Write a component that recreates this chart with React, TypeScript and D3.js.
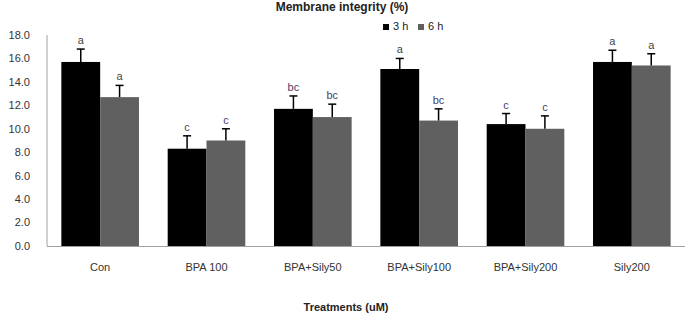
import { useEffect, useRef } from "react";
import * as d3 from "d3";

const treatments = ["Con", "BPA 100", "BPA+Sily50", "BPA+Sily100", "BPA+Sily200", "Sily200"];
const seriesNames = ["3 h", "6 h"];
const mean3h = [15.7, 8.3, 11.7, 15.1, 10.4, 15.7];
const mean6h = [12.7, 9.0, 11.0, 10.7, 10.0, 15.4];
const err3h = [1.1, 1.1, 1.1, 0.9, 0.9, 1.0];
const err6h = [1.0, 1.0, 1.1, 1.0, 1.1, 1.0];
const letters3h = ["a", "c", "bc", "a", "c", "a"];
const letters6h = ["a", "c", "bc", "bc", "c", "a"];
const yTicks = [0, 2, 4, 6, 8, 10, 12, 14, 16, 18];

const colors = ["#000000", "#606060"];
const W = 685;
const H = 318;

export default function App() {
  const ref = useRef<SVGSVGElement>(null);

  useEffect(() => {
    const svg = d3.select(ref.current);
    svg.selectAll("*").remove();

    const margin = { top: 35, right: 0, bottom: 72, left: 47 };
    const font = "'Liberation Sans', Arial, sans-serif";

    const x = d3
      .scaleBand()
      .domain(treatments)
      .range([margin.left, W - margin.right])
      .paddingInner(0.27)
      .paddingOuter(0.135);
    const x1 = d3.scaleBand().domain(seriesNames).range([0, x.bandwidth()]);
    const y = d3.scaleLinear().domain([0, 18]).range([H - margin.bottom, margin.top]);

    svg
      .append("text")
      .attr("x", 342)
      .attr("y", 11)
      .attr("text-anchor", "middle")
      .attr("font-family", font)
      .attr("font-weight", "bold")
      .attr("font-size", 12)
      .attr("fill", "#222")
      .text("Membrane integrity (%)");

    // y tick labels
    svg
      .append("g")
      .selectAll("text")
      .data(yTicks)
      .join("text")
      .attr("x", 30)
      .attr("y", (d) => y(d))
      .attr("dy", "0.35em")
      .attr("text-anchor", "end")
      .attr("font-family", font)
      .attr("font-size", 11)
      .attr("fill", "#333")
      .text((d) => d.toFixed(1));

    // axes lines
    svg
      .append("line")
      .attr("x1", margin.left)
      .attr("x2", margin.left)
      .attr("y1", y(18))
      .attr("y2", y(0))
      .attr("stroke", "#a0a0a0");
    svg
      .append("line")
      .attr("x1", margin.left)
      .attr("x2", W)
      .attr("y1", y(0) + 0.5)
      .attr("y2", y(0) + 0.5)
      .attr("stroke", "#a0a0a0");

    const series = [
      { name: "3 h", mean: mean3h, err: err3h, letters: letters3h },
      { name: "6 h", mean: mean6h, err: err6h, letters: letters6h },
    ];

    series.forEach((s, si) => {
      const g = svg.append("g");
      const cx = (i: number) => x(treatments[i])! + x1(s.name)! + x1.bandwidth() / 2;

      g.selectAll("rect")
        .data(s.mean)
        .join("rect")
        .attr("x", (_, i) => x(treatments[i])! + x1(s.name)!)
        .attr("y", (d) => y(d))
        .attr("width", x1.bandwidth())
        .attr("height", (d) => y(0) - y(d))
        .attr("fill", colors[si]);

      // upper error whiskers
      g.selectAll("line.whisker")
        .data(s.mean)
        .join("line")
        .attr("class", "whisker")
        .attr("x1", (_, i) => cx(i))
        .attr("x2", (_, i) => cx(i))
        .attr("y1", (d) => y(d))
        .attr("y2", (d, i) => y(d + s.err[i]))
        .attr("stroke", "#000")
        .attr("stroke-width", 1.5);
      g.selectAll("line.cap")
        .data(s.mean)
        .join("line")
        .attr("class", "cap")
        .attr("x1", (_, i) => cx(i) - 4)
        .attr("x2", (_, i) => cx(i) + 4)
        .attr("y1", (d, i) => y(d + s.err[i]))
        .attr("y2", (d, i) => y(d + s.err[i]))
        .attr("stroke", "#000")
        .attr("stroke-width", 1.5);

      // significance letters
      g.selectAll("text")
        .data(s.mean)
        .join("text")
        .attr("x", (_, i) => cx(i))
        .attr("y", (d, i) => y(d + s.err[i]) - 5)
        .attr("text-anchor", "middle")
        .attr("font-family", font)
        .attr("font-size", 11)
        .attr("fill", (_, i) => (s.letters[i] === "a" ? "#444" : "#4a3c6a"))
        .text((_, i) => s.letters[i]);
    });

    // category labels
    svg
      .append("g")
      .selectAll("text")
      .data(treatments)
      .join("text")
      .attr("x", (d) => x(d)! + x.bandwidth() / 2)
      .attr("y", y(0) + 25)
      .attr("text-anchor", "middle")
      .attr("font-family", font)
      .attr("font-size", 11)
      .attr("fill", "#333")
      .text((d) => d);

    svg
      .append("text")
      .attr("x", 346)
      .attr("y", 311)
      .attr("text-anchor", "middle")
      .attr("font-family", font)
      .attr("font-weight", "bold")
      .attr("font-size", 11)
      .attr("fill", "#222")
      .text("Treatments (uM)");

    // legend
    const legend = svg.append("g").attr("transform", "translate(383,24)");
    seriesNames.forEach((n, i) => {
      const lg = legend.append("g").attr("transform", `translate(${i * 35},0)`);
      lg.append("rect").attr("width", 6).attr("height", 6).attr("fill", colors[i]);
      lg.append("text")
        .attr("x", 10)
        .attr("y", 6)
        .attr("font-family", font)
        .attr("font-size", 11)
        .attr("fill", "#222")
        .text(n);
    });
  }, []);

  return (
    <div style={{ position: "fixed", left: 0, top: 0, width: W, height: H, background: "#fff" }}>
      <svg ref={ref} width={W} height={H} style={{ display: "block" }} />
    </div>
  );
}
